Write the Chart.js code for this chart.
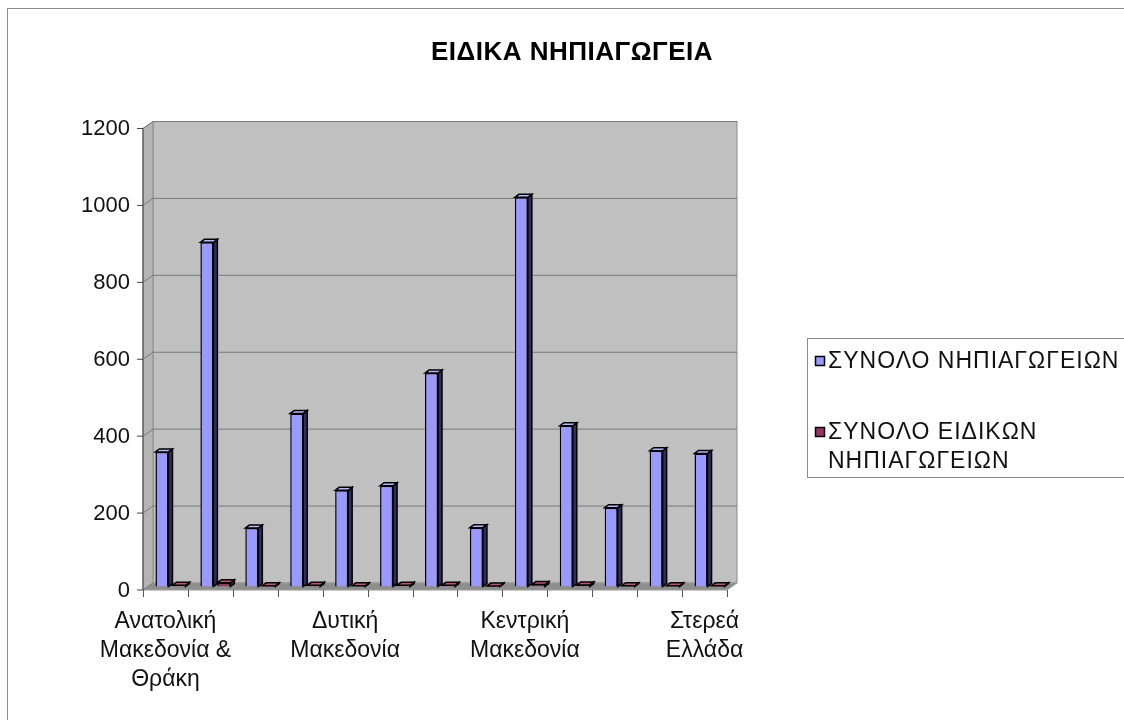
<!DOCTYPE html>
<html>
<head>
<meta charset="utf-8">
<script src="https://cdn.jsdelivr.net/npm/chart.js@4/dist/chart.umd.min.js"></script>
<style>
  body { margin: 0; background: #fff; }
  #wrap { width: 1124px; height: 720px; }
</style>
</head>
<body>
<div id="wrap"><canvas id="kgChart" width="1124" height="720"></canvas></div>
<script>
// regions (alphabetical), only every 4th name is printed under the axis
const regions = [
  ['Ανατολική', 'Μακεδονία &', 'Θράκη'],
  ['Αττική'],
  ['Βόρειο Αιγαίο'],
  ['Δυτική', 'Ελλάδα'],
  ['Δυτική', 'Μακεδονία'],
  ['Ήπειρος'],
  ['Θεσσαλία'],
  ['Ιόνια Νησιά'],
  ['Κεντρική', 'Μακεδονία'],
  ['Κρήτη'],
  ['Νότιο Αιγαίο'],
  ['Πελοπόννησος'],
  ['Στερεά', 'Ελλάδα']
];
const totalKindergartens = [350, 895, 152, 450, 250, 262, 555, 153, 1012, 418, 205, 353, 346];
const specialKindergartens = [3, 10, 2, 3, 2, 3, 3, 1, 5, 4, 2, 2, 2];
const yTicks = [0, 200, 400, 600, 800, 1000, 1200];

const titleText = 'ΕΙΔΙΚΑ ΝΗΠΙΑΓΩΓΕΙΑ';
const FONT = '"Liberation Sans", Arial, sans-serif';

// half of the 3D depth: front plane is at (-DX, +DY), back wall at (+DX, -DY)
const DX = 5, DY = 3.5;
// bar side/top face size
const SX = 4, SY = 3;

const faceColors = [
  { side: '#2e2e60', top: '#b8b8ff' },
  { side: '#4a1830', top: '#b8557f' }
];

const scenePlugin = {
  id: 'scene',
  beforeDraw(chart) {
    const c = chart.ctx;
    c.save();
    c.fillStyle = '#fff';
    c.fillRect(0, 0, chart.width, chart.height);
    // outer frame
    c.strokeStyle = '#8a8a8a';
    c.lineWidth = 1;
    c.strokeRect(7.5, 8.5, chart.width + 20, chart.height + 20);
    c.restore();
  },
  beforeDatasetsDraw(chart) {
    const c = chart.ctx;
    const a = chart.chartArea;
    const ys = chart.scales.y;
    const xs = chart.scales.x;
    c.save();
    c.lineWidth = 1;

    // back wall
    c.fillStyle = '#c0c0c0';
    c.fillRect(a.left + DX, a.top - DY, a.right - a.left, a.bottom - a.top);
    c.strokeStyle = '#8c8c8c';
    c.strokeRect(a.left + DX, a.top - DY, a.right - a.left, a.bottom - a.top);

    // left wall
    c.beginPath();
    c.moveTo(a.left - DX, a.top + DY);
    c.lineTo(a.left + DX, a.top - DY);
    c.lineTo(a.left + DX, a.bottom - DY);
    c.lineTo(a.left - DX, a.bottom + DY);
    c.closePath();
    c.fillStyle = '#b4b4b4';
    c.fill();
    c.strokeStyle = '#8c8c8c';
    c.stroke();

    // floor
    c.beginPath();
    c.moveTo(a.left - DX, a.bottom + DY);
    c.lineTo(a.right - DX, a.bottom + DY);
    c.lineTo(a.right + DX, a.bottom - DY);
    c.lineTo(a.left + DX, a.bottom - DY);
    c.closePath();
    c.fillStyle = '#8e8e8e';
    c.fill();
    c.strokeStyle = '#9a9a9a';
    c.stroke();

    // gridlines on the back wall and the left wall, plus tick marks
    yTicks.forEach(v => {
      const y = ys.getPixelForValue(v);
      c.strokeStyle = '#7a7a7a';
      if (v > 0) {
        c.beginPath();
        c.moveTo(a.left + DX, y - DY);
        c.lineTo(a.right + DX, y - DY);
        c.stroke();
      }
      c.beginPath();
      c.moveTo(a.left - DX, y + DY);
      c.lineTo(a.left + DX, y - DY);
      c.stroke();
      c.strokeStyle = '#444';
      c.beginPath();
      c.moveTo(a.left - DX - 6, y + DY);
      c.lineTo(a.left - DX, y + DY);
      c.stroke();
    });

    // front value axis
    c.strokeStyle = '#444';
    c.beginPath();
    c.moveTo(a.left - DX, a.top + DY);
    c.lineTo(a.left - DX, a.bottom + DY);
    c.stroke();

    // category tick marks on the front edge of the floor
    const step = xs.getPixelForValue(1) - xs.getPixelForValue(0);
    c.strokeStyle = '#555';
    for (let i = 0; i <= regions.length; i++) {
      const x = Math.round(xs.getPixelForValue(0) - step / 2 + i * step - DX) + 0.5;
      c.beginPath();
      c.moveTo(x, a.bottom + DY);
      c.lineTo(x, a.bottom + DY + 7);
      c.stroke();
    }
    c.restore();
  },
  afterDatasetsDraw(chart) {
    const c = chart.ctx;
    c.save();
    c.lineWidth = 1.5;
    c.strokeStyle = '#000';
    chart.data.datasets.forEach((ds, di) => {
      const meta = chart.getDatasetMeta(di);
      meta.data.forEach(bar => {
        const p = bar.getProps(['x', 'y', 'base', 'width']);
        const l = p.x - p.width / 2, r = p.x + p.width / 2;
        // side face
        c.beginPath();
        c.moveTo(r, p.y);
        c.lineTo(r + SX, p.y - SY);
        c.lineTo(r + SX, p.base - SY);
        c.lineTo(r, p.base);
        c.closePath();
        c.fillStyle = faceColors[di].side;
        c.fill();
        c.stroke();
        // top face
        c.beginPath();
        c.moveTo(l, p.y);
        c.lineTo(l + SX, p.y - SY);
        c.lineTo(r + SX, p.y - SY);
        c.lineTo(r, p.y);
        c.closePath();
        c.fillStyle = faceColors[di].top;
        c.fill();
        c.stroke();
      });
    });
    c.restore();
  },
  afterDraw(chart) {
    const c = chart.ctx;
    const a = chart.chartArea;
    c.save();

    // title
    c.fillStyle = '#000';
    c.font = 'bold 26px ' + FONT;
    c.letterSpacing = '0.5px';
    c.textAlign = 'center';
    c.textBaseline = 'middle';
    c.fillText(titleText, 572, 53);

    // legend box
    const lx = a.right + 75, ly = 338;
    c.strokeStyle = '#8a8a8a';
    c.lineWidth = 1;
    c.strokeRect(lx + 0.5, ly + 0.5, 400, 139);
    c.font = '23px ' + FONT;
    c.letterSpacing = '1px';
    c.textAlign = 'left';
    const rowsY = [ly + 23, ly + 94];
    chart.data.datasets.forEach((ds, i) => {
      const y = rowsY[i];
      c.fillStyle = ds.backgroundColor;
      c.fillRect(lx + 8.5, y - 4.5, 9, 9);
      c.strokeStyle = '#000';
      c.lineWidth = 1.5;
      c.strokeRect(lx + 8.5, y - 4.5, 9, 9);
      // wrap the label by words
      const words = ds.label.split(' ');
      const lines = [];
      let line = '';
      words.forEach(w => {
        const t = line ? line + ' ' + w : w;
        if (c.measureText(t).width > 305 && line) {
          lines.push(line);
          line = w;
        } else {
          line = t;
        }
      });
      lines.push(line);
      c.fillStyle = '#111';
      lines.forEach((s, k) => c.fillText(s, lx + 21, y + 1 + k * 28.5));
    });
    c.restore();
  }
};

const ctx = document.getElementById('kgChart').getContext('2d');

new Chart(ctx, {
  type: 'bar',
  data: {
    labels: regions,
    datasets: [{
      label: 'ΣΥΝΟΛΟ ΝΗΠΙΑΓΩΓΕΙΩΝ',
      data: totalKindergartens,
      backgroundColor: '#9999ff',
      borderColor: '#000',
      borderWidth: 1.5
    }, {
      label: 'ΣΥΝΟΛΟ ΕΙΔΙΚΩΝ ΝΗΠΙΑΓΩΓΕΙΩΝ',
      data: specialKindergartens,
      backgroundColor: '#993366',
      borderColor: '#000',
      borderWidth: 1.5
    }]
  },
  options: {
    responsive: false,
    animation: false,
    categoryPercentage: 0.757,
    barPercentage: 0.765,
    layout: {
      padding: { left: 0, top: 125, right: 392, bottom: 0 }
    },
    plugins: {
      legend: { display: false },
      title: { display: false },
      tooltip: { enabled: false }
    },
    scales: {
      x: {
        grid: { display: false, drawTicks: false },
        border: { display: false },
        ticks: {
          autoSkip: false,
          maxRotation: 0,
          padding: 20,
          labelOffset: -5,
          color: '#111',
          font: { family: FONT, size: 23, lineHeight: 1.28 },
          callback: function (value, index) {
            return index % 4 === 0 ? this.getLabelForValue(value) : '';
          }
        },
        afterFit: scale => { scale.height = 133.5; }
      },
      y: {
        min: 0,
        max: 1200,
        grid: { display: false, drawTicks: false },
        border: { display: false },
        ticks: {
          stepSize: 200,
          padding: 18,
          labelOffset: 4,
          color: '#111',
          font: { family: FONT, size: 22 },
          callback: v => String(v)
        },
        afterFit: scale => { scale.width = 148; }
      }
    }
  },
  plugins: [scenePlugin]
});
</script>
</body>
</html>
